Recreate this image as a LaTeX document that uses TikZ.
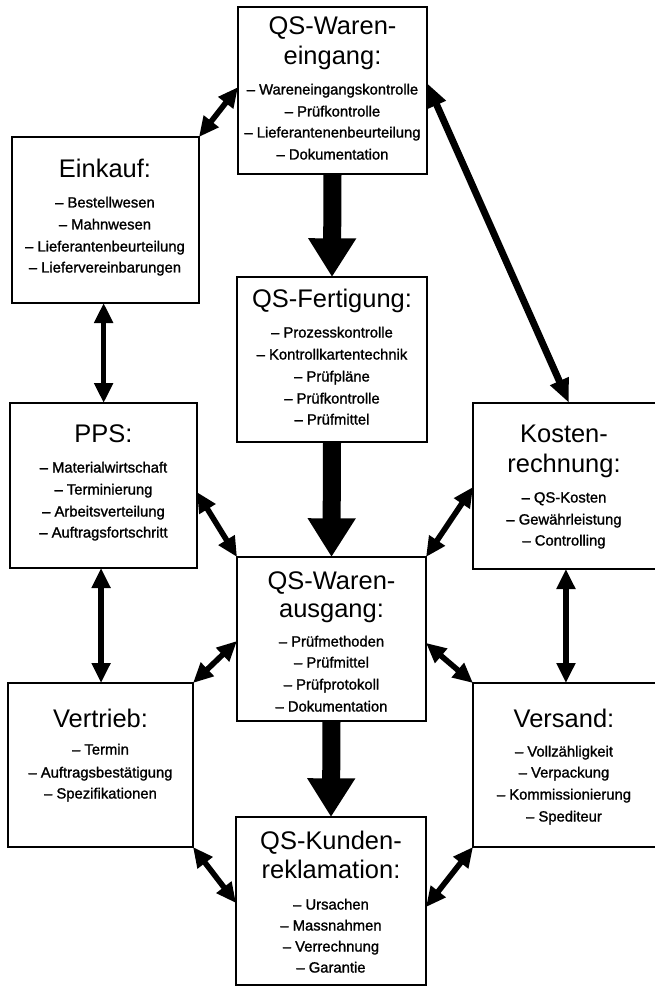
\documentclass[tikz,border=0pt]{standalone}
\usepackage{fontspec}
\setmainfont{Liberation Sans}
\newfontfamily\itemfont[FakeBold=1.3]{Liberation Sans}
\usetikzlibrary{arrows.meta,calc}
\begin{document}
\begin{tikzpicture}[x=0.75pt,y=-0.75pt,
  box/.style={draw, line width=1.7pt, inner sep=0pt, outer sep=0pt, anchor=north west},
  ttl/.style={anchor=base, inner sep=0pt, font=\fontsize{19.1pt}{23pt}\selectfont},
  itm/.style={anchor=base, inner sep=0pt, font=\itemfont\fontsize{11.1pt}{13pt}\selectfont},
  bigarrow/.style={line width=13.5pt, -{Triangle[width=34pt,length=29pt]}},
  dbl/.style={line width=4.2pt, {Triangle[width=13.5pt,length=15pt]}-{Triangle[width=13.5pt,length=15pt]}},
  dblthick/.style={line width=5.2pt, {Triangle[width=14pt,length=18pt]}-{Triangle[width=14pt,length=18pt]}}]
\useasboundingbox (0,0) rectangle (655,987);
\clip (0,0) rectangle (655,987);

% boxes
\node[box, minimum width=141.75pt, minimum height=125.25pt] (we) at (238,7) {};
\node[box, minimum width=140.25pt, minimum height=124.5pt] (ein) at (12,137) {};
\node[box, minimum width=142.5pt, minimum height=123.75pt] (fer) at (237,277) {};
\node[box, minimum width=140.25pt, minimum height=123.75pt] (pps) at (10,403) {};
\node[box, minimum width=155.25pt, minimum height=124.5pt] (kos) at (473,403) {};
\node[box, minimum width=141.75pt, minimum height=123pt] (wa) at (237,557) {};
\node[box, minimum width=138.75pt, minimum height=123pt] (vtr) at (8,683) {};
\node[box, minimum width=155.25pt, minimum height=123pt] (vsd) at (473,683) {};
\node[box, minimum width=142.5pt, minimum height=126pt] (kr) at (236,817) {};

% QS-Wareneingang
\node[ttl] (we-t1) at (332.5,35) {QS-Waren-};
\node[ttl] (we-t2) at (332.5,65) {eingang:};
\node[itm] (we-i1) at (332.5,94.5) {– Wareneingangskontrolle};
\node[itm] (we-i2) at (332.5,116.5) {– Prüfkontrolle};
\node[itm] (we-i3) at (332.5,137.5) {– Lieferantenenbeurteilung};
\node[itm] (we-i4) at (332.5,159.5) {– Dokumentation};

% Einkauf
\node[ttl] (ein-t1) at (105,178) {Einkauf:};
\node[itm] (ein-i1) at (105,207.5) {– Bestellwesen};
\node[itm] (ein-i2) at (105,229.5) {– Mahnwesen};
\node[itm] (ein-i3) at (105,251.5) {– Lieferantenbeurteilung};
\node[itm] (ein-i4) at (105,272.5) {– Liefervereinbarungen};

% QS-Fertigung
\node[ttl] (fer-t1) at (332,307) {QS-Fertigung:};
\node[itm] (fer-i1) at (332,337.5) {– Prozesskontrolle};
\node[itm] (fer-i2) at (332,359.5) {– Kontrollkartentechnik};
\node[itm] (fer-i3) at (332,381.5) {– Prüfpläne};
\node[itm] (fer-i4) at (332,403.5) {– Prüfkontrolle};
\node[itm] (fer-i5) at (332,424.5) {– Prüfmittel};

% PPS
\node[ttl] (pps-t1) at (103.5,442) {PPS:};
\node[itm] (pps-i1) at (103.5,472.5) {– Materialwirtschaft};
\node[itm] (pps-i2) at (103.5,494.5) {– Terminierung};
\node[itm] (pps-i3) at (103.5,516.5) {– Arbeitsverteilung};
\node[itm] (pps-i4) at (103.5,537.5) {– Auftragsfortschritt};

% Kostenrechnung
\node[ttl] (kos-t1) at (564,442) {Kosten-};
\node[ttl] (kos-t2) at (564,472) {rechnung:};
\node[itm] (kos-i1) at (564,502.5) {– QS-Kosten};
\node[itm] (kos-i2) at (564,524.5) {– Gewährleistung};
\node[itm] (kos-i3) at (564,545.5) {– Controlling};

% QS-Warenausgang
\node[ttl] (wa-t1) at (331.5,589) {QS-Waren-};
\node[ttl] (wa-t2) at (331.5,617) {ausgang:};
\node[itm] (wa-i1) at (331.5,646.5) {– Prüfmethoden};
\node[itm] (wa-i2) at (331.5,667.5) {– Prüfmittel};
\node[itm] (wa-i3) at (331.5,689.5) {– Prüfprotokoll};
\node[itm] (wa-i4) at (331.5,711.5) {– Dokumentation};

% Vertrieb
\node[ttl] (vtr-t1) at (100.5,727) {Vertrieb:};
\node[itm] (vtr-i1) at (100.5,754.5) {– Termin};
\node[itm] (vtr-i2) at (100.5,777.5) {– Auftragsbestätigung};
\node[itm] (vtr-i3) at (100.5,798.5) {– Spezifikationen};

% Versand
\node[ttl] (vsd-t1) at (564,727) {Versand:};
\node[itm] (vsd-i1) at (564,756.5) {– Vollzähligkeit};
\node[itm] (vsd-i2) at (564,777.5) {– Verpackung};
\node[itm] (vsd-i3) at (564,799.5) {– Kommissionierung};
\node[itm] (vsd-i4) at (564,821.5) {– Spediteur};

% QS-Kundenreklamation
\node[ttl] (kr-t1) at (331,849) {QS-Kunden-};
\node[ttl] (kr-t2) at (331,878) {reklamation:};
\node[itm] (kr-i1) at (331,909.5) {– Ursachen};
\node[itm] (kr-i2) at (331,930.5) {– Massnahmen};
\node[itm] (kr-i3) at (331,951.5) {– Verrechnung};
\node[itm] (kr-i4) at (331,972.5) {– Garantie};

% thick flow arrows
\draw[bigarrow] (we.south) -- (fer.north);
\draw[bigarrow] (fer.south) -- (wa.north);
\draw[bigarrow] (wa.south) -- (kr.north);

% double arrows
\draw[dbl] (ein.north east) -- ($(we.north west)!0.48!(we.south west)$);
\draw[dbl] ($(ein.south west)!0.49!(ein.south east)$) coordinate (c1) -- (c1 |- pps.north);
\draw[dbl] ($(pps.south west)!0.487!(pps.south east)$) coordinate (c2) -- (c2 |- vtr.north);
\draw[dbl] ($(pps.north east)!0.54!(pps.south east)$) -- (wa.north west);
\draw[dbl] (wa.north east) -- ($(kos.north west)!0.506!(kos.south west)$);
\draw[dbl] ($(wa.north west)!0.512!(wa.south west)$) -- (vtr.north east);
\draw[dbl] ($(wa.north east)!0.524!(wa.south east)$) -- (vsd.north west);
\draw[dbl] ($(kos.south west)!0.449!(kos.south east)$) coordinate (c3) -- (c3 |- vsd.north);
\draw[dbl] (vtr.south east) -- ($(kr.north west)!0.512!(kr.south west)$);
\draw[dbl] (vsd.south west) -- ($(kr.north east)!0.536!(kr.south east)$);
\draw[dblthick] ($(we.north east)!0.455!(we.south east)$) -- ($(kos.north west)!0.464!(kos.north east)$);
\end{tikzpicture}
\end{document}
